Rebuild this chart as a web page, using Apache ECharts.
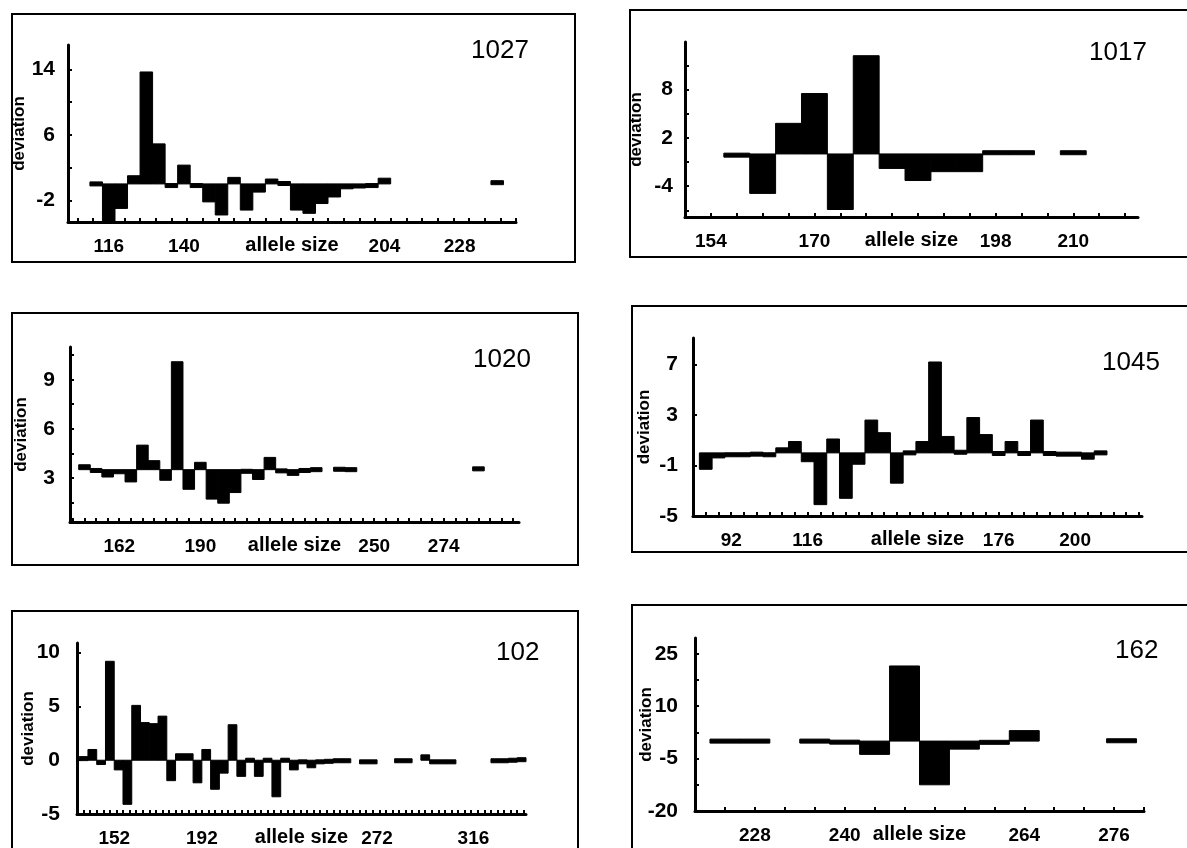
<!DOCTYPE html>
<html>
<head>
<meta charset="utf-8">
<style>
  html, body { margin: 0; padding: 0; background: #fff; }
  #chart { width: 1187px; height: 848px; }
</style>
<script src="https://cdn.jsdelivr.net/npm/echarts@6/dist/echarts.min.js"></script>
</head>
<body>
<div id="chart"></div>
<script>
// allele size classes and deviation per panel
var sizes1027 = [112, 116, 120, 124, 128, 132, 136, 140, 144, 148, 152, 156, 160, 164, 168, 172, 176, 180, 184, 188, 192, 196, 200, 204, 240]
var dev1027 = [0, -4.7, -3.0, 1.0, 13.7, 4.9, -0.4, 2.3, -0.4, -2.2, -3.8, 0.8, -3.2, -1.0, 0.6, 0.1, -3.2, -3.6, -2.4, -1.6, -0.6, -0.5, -0.4, 0.7, 0.3]

var sizes1017 = [158, 162, 166, 170, 174, 178, 182, 186, 190, 194, 198, 202, 210]
var dev1017 = [-0.3, -4.9, 3.8, 7.5, -6.9, 12.2, -1.8, -3.3, -2.2, -2.2, 0.3, 0.3, 0.3]

var sizes1020 = [150, 154, 158, 162, 166, 170, 174, 178, 182, 186, 190, 194, 198, 202, 206, 210, 214, 218, 222, 226, 230, 238, 242, 286]
var dev1020 = [3.8, 3.4, 3.05, 3.25, 2.75, 5.0, 4.05, 2.85, 10.1, 2.3, 3.95, 1.7, 1.45, 2.1, 3.3, 2.9, 4.25, 3.35, 3.15, 3.4, 3.5, 3.55, 3.5, 3.6]

var sizes1045 = [84, 88, 92, 96, 100, 104, 108, 112, 116, 120, 124, 128, 132, 136, 140, 144, 148, 152, 156, 160, 164, 168, 172, 176, 180, 184, 188, 192, 196, 200, 204, 208]
var dev1045 = [-1.3, -0.4, -0.3, -0.3, -0.2, -0.3, 0.4, 0.9, -0.7, -4.1, 1.1, -3.6, -0.9, 2.6, 1.6, -2.4, 0, 0.9, 7.2, 1.3, 0.1, 2.8, 1.45, -0.1, 0.9, -0.1, 2.6, -0.1, -0.2, -0.2, -0.5, 0]

var sizes102 = [138, 142, 146, 150, 154, 158, 162, 166, 170, 174, 178, 182, 186, 190, 194, 198, 202, 206, 210, 214, 218, 222, 226, 230, 234, 238, 242, 246, 250, 254, 258, 266, 270, 282, 286, 294, 298, 302, 306, 326, 330, 334, 338]
var dev102 = [0.3, 1.0, -0.4, 9.2, -0.9, -4.1, 5.1, 3.5, 3.4, 4.1, -1.9, 0.6, 0.6, -2.1, 1.0, -2.7, -1.2, 3.3, -1.5, 0, -1.5, 0, -3.4, 0, -0.9, -0.3, -0.7, -0.3, -0.2, -0.1, -0.1, -0.3, -0.3, -0.1, -0.1, 0.5, -0.3, -0.3, -0.3, -0.1, -0.1, 0, 0.1]

var sizes162 = [224, 228, 236, 240, 244, 248, 252, 256, 260, 264, 277]
var dev162 = [0, 0, 0, -0.6, -3.8, 21.5, -12.5, -2.3, -0.7, 3.0, 0.2]

// tick labels
var xLabels1027 = [116, 140, 204, 228]
var xLabels1017 = [154, 170, 198, 210]
var xLabels1020 = [162, 190, 250, 274]
var xLabels1045 = [92, 116, 176, 200]
var xLabels102 = [152, 192, 272, 316]
var xLabels162 = [228, 240, 264, 276]

var yLabels1027 = [-2, 6, 14]
var yLabels1017 = [-4, 2, 8]
var yLabels1020 = [3, 6, 9]
var yLabels1045 = [-5, -1, 3, 7]
var yLabels102 = [-5, 0, 5, 10]
var yLabels162 = [-20, -5, 10, 25]

function steps(from, to, step) {
  var out = []
  for (var v = from; v <= to + 1e-9; v += step) out.push(+v.toFixed(2))
  return out
}

var sans = "'Liberation Sans', Arial, sans-serif"

var panels = [
  { name: '1027', sizes: sizes1027, dev: dev1027, xLabels: xLabels1027, yLabels: yLabels1027,
    xMin: 103, xMax: 246, xTicks: steps(106, 246, 5), yMin: -4.66, yMax: 17, yTicks: steps(-2, 14, 4), base: 0,
    grid: { left: 68, top: 45, width: 448, height: 177 }, box: [12, 14, 563, 248], title: [471, 38], yMargin: 13 },
  { name: '1017', sizes: sizes1017, dev: dev1017, xLabels: xLabels1017, yLabels: yLabels1017,
    xMin: 150, xMax: 220, xTicks: steps(154, 218, 4), yMin: -7.83, yMax: 13.9, yTicks: steps(-7, 11, 3), base: 0,
    grid: { left: 685, top: 42, width: 453, height: 175 }, box: [630, 10, 570, 247], title: [1089, 40], yMargin: 12 },
  { name: '1020', sizes: sizes1020, dev: dev1020, xLabels: xLabels1020, yLabels: yLabels1020,
    xMin: 145, xMax: 300, xTicks: steps(146, 298, 4), yMin: 0.3, yMax: 11, yTicks: steps(1.5, 10.5, 1.5), base: 3.5,
    grid: { left: 70, top: 347, width: 449, height: 175 }, box: [12, 313, 566, 252], title: [473, 347], yMargin: 15 },
  { name: '1045', sizes: sizes1045, dev: dev1045, xLabels: xLabels1045, yLabels: yLabels1045,
    xMin: 80, xMax: 221, xTicks: steps(84, 220, 4), yMin: -5, yMax: 9.1, yTicks: steps(-5, 7, 4), base: 0,
    grid: { left: 693, top: 338, width: 449, height: 178 }, box: [632, 306, 570, 246], title: [1102, 350], yMargin: 15 },
  { name: '102', sizes: sizes102, dev: dev102, xLabels: xLabels102, yLabels: yLabels102,
    xMin: 135, xMax: 340, xTicks: steps(135, 339, 3), yMin: -5, yMax: 10.9, yTicks: steps(-5, 10, 5), base: 0,
    grid: { left: 77, top: 643, width: 449, height: 178 }, box: [12, 611, 566, 250], title: [496, 640], yMargin: 17 },
  { name: '162', sizes: sizes162, dev: dev162, xLabels: xLabels162, yLabels: yLabels162,
    xMin: 220, xMax: 280, xTicks: steps(224, 280, 4), yMin: -20, yMax: 29.5, yTicks: steps(-12.5, 25, 7.5), base: 0,
    grid: { left: 695, top: 638, width: 449, height: 173 }, box: [632, 605, 570, 250], title: [1115, 638], yMargin: 17 },
]

// bar drawn from the panel baseline, 4 allele units wide
function barItem(base, half) {
  return function (params, api) {
    var x = api.value(0)
    var a = api.coord([x - half, api.value(1)])
    var b = api.coord([x + half, base])
    var top = Math.min(a[1], b[1])
    var bottom = Math.max(a[1], b[1])
    if (bottom - top < 4) {
      var mid = (top + bottom) / 2
      top = mid - 2
      bottom = mid + 2
    }
    var rect = echarts.graphic.clipRectByRect(
      { x: a[0], y: top, width: b[0] - a[0], height: bottom - top },
      { x: params.coordSys.x, y: params.coordSys.y - 3, width: params.coordSys.width, height: params.coordSys.height + 3 }
    )
    if (!rect) return
    return { type: 'rect', shape: rect, style: { fill: '#000', stroke: '#000', lineWidth: 1 } }
  }
}

var axisLine = { onZero: false, lineStyle: { color: '#000', width: 3 } }
var option = {
  animation: false,
  backgroundColor: '#fff',
  title: [],
  grid: [],
  xAxis: [],
  yAxis: [],
  series: [],
  graphic: [],
}

panels.forEach(function (p, i) {
  option.title.push({
    text: p.name,
    left: p.title[0],
    top: p.title[1],
    padding: 0,
    textStyle: { fontSize: 26, fontWeight: 'normal', color: '#000', fontFamily: sans },
  })
  option.grid.push(Object.assign({ containLabel: false }, p.grid))
  option.xAxis.push({
    type: 'value',
    gridIndex: i,
    position: 'bottom',
    min: p.xMin,
    max: p.xMax,
    name: 'allele size',
    nameLocation: 'middle',
    nameGap: 13,
    nameMoveOverlap: false,
    nameTextStyle: { fontSize: 20, fontWeight: 'bold', color: '#000', fontFamily: sans, verticalAlign: 'top' },
    axisLine: axisLine,
    axisTick: { show: true, inside: true, length: 4, customValues: p.xTicks, lineStyle: { color: '#000', width: 2 } },
    axisLabel: { customValues: p.xLabels, color: '#000', fontSize: 19, fontWeight: 'bold', fontFamily: sans, margin: 15 },
    splitLine: { show: false },
  })
  option.yAxis.push({
    type: 'value',
    gridIndex: i,
    position: 'left',
    min: p.yMin,
    max: p.yMax,
    name: 'deviation',
    nameLocation: 'middle',
    nameRotate: 90,
    nameGap: 40,
    nameMoveOverlap: false,
    nameTextStyle: { fontSize: 17, fontWeight: 'bold', color: '#000', fontFamily: sans },
    axisLine: axisLine,
    axisTick: { show: true, inside: true, length: 4, customValues: p.yTicks, lineStyle: { color: '#000', width: 2 } },
    axisLabel: { customValues: p.yLabels, color: '#000', fontSize: 21, fontWeight: 'bold', fontFamily: sans, margin: p.yMargin },
    splitLine: { show: false },
  })
  option.series.push({
    type: 'custom',
    xAxisIndex: i,
    yAxisIndex: i,
    renderItem: barItem(p.base, 2),
    encode: { x: 0, y: 1 },
    data: p.sizes.map(function (s, k) { return [s, p.dev[k]] }),
  })
  option.graphic.push({
    type: 'rect',
    silent: true,
    shape: { x: p.box[0], y: p.box[1], width: p.box[2], height: p.box[3] },
    style: { fill: 'none', stroke: '#000', lineWidth: 2 },
  })
})

var chart = echarts.init(document.getElementById('chart'))
chart.setOption(option)
</script>
</body>
</html>
